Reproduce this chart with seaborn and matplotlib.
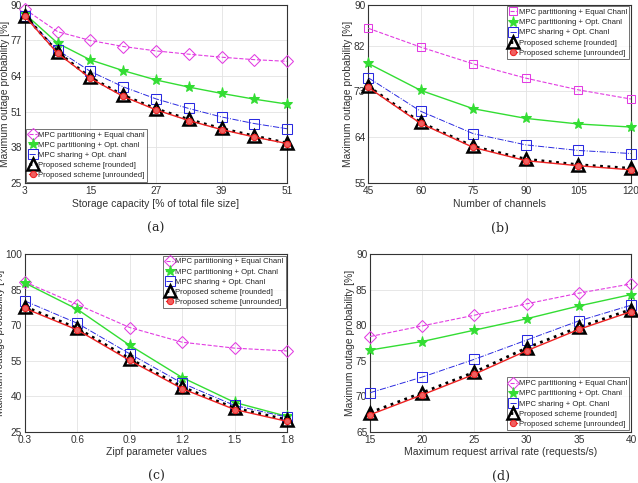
import numpy as np
import pandas as pd
import matplotlib
matplotlib.use("Agg")
import matplotlib.pyplot as plt
import seaborn as sns

# (a) storage capacity
cap_x = [3, 9, 15, 21, 27, 33, 39, 45, 51]
cap_equal = [88.4, 80.2, 77.0, 74.8, 73.2, 72.0, 70.9, 70.0, 69.4]
cap_opt = [86.7, 76.0, 69.9, 66.0, 62.6, 60.0, 57.7, 55.6, 53.8]
cap_share = [86.1, 73.5, 65.7, 60.1, 55.7, 52.2, 49.1, 46.7, 44.8]
cap_round = [86.1, 72.7, 63.5, 57.0, 52.1, 48.2, 44.9, 42.2, 39.6]
cap_unround = [85.8, 72.3, 63.2, 56.6, 51.7, 47.8, 44.5, 41.8, 39.4]

# (b) number of channels
ch_x = [45, 60, 75, 90, 105, 120]
ch_equal = [85.4, 81.7, 78.4, 75.6, 73.3, 71.5]
ch_opt = [78.5, 73.2, 69.6, 67.7, 66.6, 66.0]
ch_share = [75.7, 69.1, 64.7, 62.5, 61.4, 60.8]
ch_round = [74.0, 66.9, 62.2, 59.7, 58.6, 57.9]
ch_unround = [73.8, 66.7, 62.0, 59.4, 58.4, 57.6]

# (c) zipf parameter
zipf_x = [0.3, 0.6, 0.9, 1.2, 1.5, 1.8]
zipf_equal = [88.2, 78.7, 69.0, 62.8, 60.3, 59.1]
zipf_opt = [87.8, 76.7, 61.5, 47.9, 37.4, 31.5]
zipf_share = [80.2, 70.8, 57.9, 45.5, 36.1, 31.2]
zipf_round = [77.8, 68.7, 55.8, 43.9, 35.0, 30.1]
zipf_unround = [77.1, 68.0, 55.1, 43.2, 34.4, 29.4]

# (d) request arrival rate
rate_x = [15, 20, 25, 30, 35, 40]
rate_equal = [78.4, 79.9, 81.4, 83.0, 84.5, 85.8]
rate_opt = [76.5, 77.7, 79.3, 80.9, 82.7, 84.3]
rate_share = [70.5, 72.7, 75.2, 77.9, 80.6, 82.8]
rate_round = [67.7, 70.5, 73.4, 76.8, 79.7, 82.2]
rate_unround = [67.4, 70.2, 73.1, 76.4, 79.4, 81.9]

labels_lower = ["MPC partitioning + Equal chanl", "MPC partitioning + Opt. chanl",
                "MPC sharing + Opt. chanl", "Proposed scheme [rounded]",
                "Proposed scheme [unrounded]"]
labels_upper = ["MPC partitioning + Equal Chanl", "MPC partitioning + Opt. Chanl",
                "MPC sharing + Opt. Chanl", "Proposed scheme [rounded]",
                "Proposed scheme [unrounded]"]

sns.set_style("whitegrid")
plt.rcParams["font.family"] = ["Liberation Sans", "DejaVu Sans"]

fig = plt.figure(figsize=(6.38, 4.83), dpi=100)
boxes = [[0.039, 0.621, 0.411, 0.369], [0.577, 0.621, 0.412, 0.369],
         [0.039, 0.106, 0.411, 0.368], [0.580, 0.106, 0.409, 0.368]]


def draw(ax, x, series, labels, eq_marker, ylim, yticks, xticks, xlabel, legloc, caption):
    styles = [
        dict(color="#e23ce2", linestyle="--", marker=eq_marker, markersize=6,
             markerfacecolor="none", markeredgecolor="#e23ce2", lw=0.8),
        dict(color="#33dd33", linestyle="-", marker="*", markersize=8,
             markerfacecolor="#33dd33", markeredgecolor="#33dd33", lw=1.0),
        dict(color="#2a2ae0", linestyle="-.", marker="s", markersize=6.5,
             markerfacecolor="none", markeredgecolor="#2a2ae0", lw=0.7),
        dict(color="black", linestyle=":", marker="^", markersize=9,
             markerfacecolor="none", markeredgecolor="black", lw=2.0, markeredgewidth=1.8),
        dict(color="#ee2222", linestyle="-", marker="o", markersize=4.5,
             markerfacecolor="#f06060", markeredgecolor="#ee2222", lw=1.0),
    ]
    for y, lab, st in zip(series, labels, styles):
        sns.lineplot(x=x, y=y, ax=ax, label=lab, clip_on=False, zorder=3, **st)
    ax.set_xlim(x[0], x[-1])
    ax.set_ylim(*ylim)
    ax.set_yticks(yticks)
    ax.set_xticks(xticks)
    ax.set_xlabel(xlabel, fontsize=7.5, color="#333333", labelpad=2)
    ax.set_ylabel("Maximum outage probability [%]", fontsize=7.4, color="#333333", labelpad=0.5)
    ax.tick_params(labelsize=7.3, colors="#333333", direction="in", length=2, pad=2)
    ax.grid(True, color="#e3e3e3", lw=0.6)
    for sp in ax.spines.values():
        sp.set_color("#333333")
        sp.set_linewidth(0.8)
        sp.set_zorder(2)
    leg = ax.legend(loc=legloc, fontsize=5.6, frameon=True, fancybox=False,
                    handlelength=1.0, handletextpad=0.2, borderpad=0.3,
                    labelspacing=0.35, borderaxespad=0.2)
    leg.get_frame().set_edgecolor("#333333")
    leg.get_frame().set_linewidth(0.6)
    leg.set_zorder(5)
    ax.text(0.5, -0.253, caption, transform=ax.transAxes, ha="center", va="center",
            fontsize=9, family="DejaVu Serif")


axa = fig.add_axes(boxes[0])
draw(axa, cap_x, [cap_equal, cap_opt, cap_share, cap_round, cap_unround], labels_lower,
     "D", (25, 90), [25, 38, 51, 64, 77, 90], [3, 15, 27, 39, 51],
     "Storage capacity [% of total file size]", "lower left", "(a)")

axb = fig.add_axes(boxes[1])
draw(axb, ch_x, [ch_equal, ch_opt, ch_share, ch_round, ch_unround], labels_upper,
     "s", (55, 90), [55, 64, 73, 82, 90], ch_x,
     "Number of channels", "upper right", "(b)")

axc = fig.add_axes(boxes[2])
draw(axc, zipf_x, [zipf_equal, zipf_opt, zipf_share, zipf_round, zipf_unround], labels_upper,
     "D", (25, 100), [25, 40, 55, 70, 85, 100], zipf_x,
     "Zipf parameter values", "upper right", "(c)")

axd = fig.add_axes(boxes[3])
draw(axd, rate_x, [rate_equal, rate_opt, rate_share, rate_round, rate_unround], labels_upper,
     "D", (65, 90), [65, 70, 75, 80, 85, 90], rate_x,
     "Maximum request arrival rate (requests/s)", "lower right", "(d)")

fig.savefig("out.png", dpi=100)
